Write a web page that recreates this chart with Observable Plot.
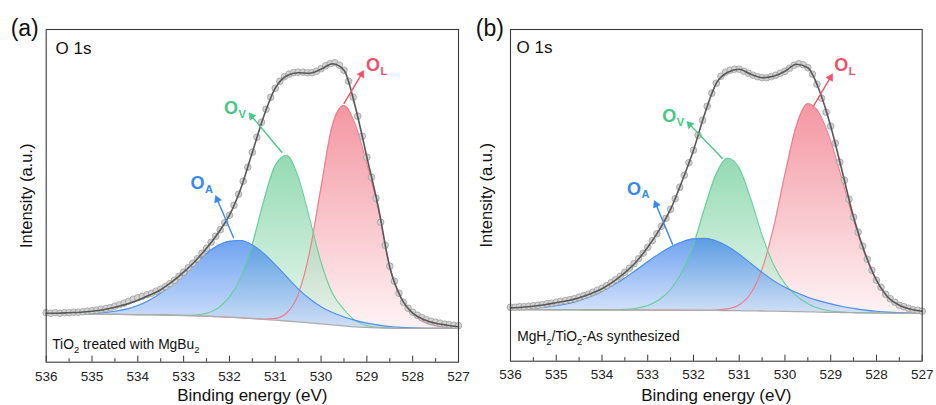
<!DOCTYPE html>
<html>
<head>
<meta charset="utf-8">
<script src="https://cdn.jsdelivr.net/npm/d3@7"></script>
<script src="https://cdn.jsdelivr.net/npm/@observablehq/plot@0.6"></script>
<style>
  html, body { margin: 0; padding: 0; background: #fff; }
  #wrap { position: relative; width: 936px; height: 405px; overflow: hidden; }
  #wrap > svg { position: absolute; top: 0; }
</style>
</head>
<body>
<div id="wrap"></div>
<script>
// ---------- shared axis data ----------
const energy = [536,535.75,535.5,535.25,535,534.75,534.5,534.25,534,533.75,533.5,533.25,533,532.75,532.5,532.25,532,531.75,531.5,531.25,531,530.75,530.5,530.25,530,529.75,529.5,529.25,529,528.75,528.5,528.25,528,527.75,527.5,527.25,527];
const majorTicks = [536,535,534,533,532,531,530,529,528,527];
const minorTicks = [535.5,534.5,533.5,532.5,531.5,530.5,529.5,528.5,527.5];
const tickLabels = ["536","535","534","533","532","531","530","529","528","527"];
const xTitle = "Binding energy (eV)";
const yTitle = "Intensity (a.u.)";
const spectrumTitle = "O 1s";

// ---------- panel (a): TiO2 treated with MgBu2 ----------
const a_background = [48.3,48.3,48.2,48.1,48.0,47.9,47.8,47.7,47.6,47.5,47.3,47.0,46.7,46.4,46.0,45.5,45.0,44.4,43.7,42.9,42.0,41.2,40.3,39.3,38.3,37.3,36.3,35.4,34.8,34.3,34.0,33.9,33.8,33.8,33.8,33.8,33.8];
const a_OA = [48.3,48.4,48.4,48.5,48.8,49.5,50.9,53.1,56.7,62.0,69.1,77.9,88.1,98.8,108.8,116.6,121.0,121.7,117.3,108.8,97.6,85.5,73.4,63.5,55.5,49.6,45.3,41.8,39.1,37.1,35.7,34.8,34.3,34.0,33.9,33.8,33.8];
const a_OV = [48.3,48.3,48.2,48.1,48.0,47.9,47.8,47.7,47.6,47.5,47.3,47.0,46.8,47.2,48.9,54.1,65.3,84.6,118.0,161.4,196.7,206.7,185.4,143.6,99.7,68.7,52.7,41.6,36.7,34.8,34.2,33.9,33.8,33.8,33.8,33.8,33.8];
const a_OL = [48.3,48.3,48.2,48.1,48.0,47.9,47.8,47.7,47.6,47.5,47.3,47.0,46.7,46.4,46.0,45.5,45.0,44.4,43.7,43.2,43.8,49.2,67.7,110.0,175.1,237.3,256.6,237.2,198.0,152.0,95.5,63.5,48.0,40.0,36.4,34.8,34.2];
const a_fit = [49,49,49.5,50,51,52.5,55,58,62,67,72.5,80.5,90,101,114,129,147,174,210,246,274,286.5,289.5,289,293,298.5,292,255,205,155,95,64,49,42.5,39,37,35.5];
const a_points = [[536.0,49.5],[535.9,49],[535.8,49.5],[535.7,49],[535.6,49.5],[535.5,49.5],[535.4,50],[535.3,50],[535.2,50.5],[535.1,51],[535.0,51.5],[534.9,52],[534.8,53],[534.7,53.5],[534.6,54.5],[534.5,56],[534.4,57.5],[534.3,59],[534.2,61],[534.1,63],[534.0,64.5],[533.9,66],[533.8,67.5],[533.7,69],[533.6,71],[533.5,73],[533.4,75.5],[533.3,78.5],[533.2,82],[533.1,86],[533.0,90],[532.9,94.5],[532.8,99],[532.7,103.5],[532.6,109],[532.5,114],[532.4,120],[532.3,126],[532.2,132.5],[532.1,139.5],[532.0,147],[531.9,157],[531.8,168],[531.7,181],[531.6,195],[531.5,210],[531.4,225],[531.3,240],[531.2,253],[531.1,265],[531.0,274],[530.9,281],[530.8,285.5],[530.7,288],[530.6,289.5],[530.5,290],[530.4,290],[530.3,289.5],[530.2,289.5],[530.1,291],[530.0,293.5],[529.9,296.5],[529.8,298.5],[529.7,299.5],[529.6,297],[529.5,292],[529.4,281],[529.3,265],[529.2,246],[529.1,226],[529.0,205],[528.9,185],[528.8,164],[528.7,140],[528.6,117],[528.5,96],[528.4,81],[528.3,69],[528.2,60],[528.1,54],[528.0,50],[527.9,47],[527.8,44.5],[527.7,42.5],[527.6,41],[527.5,40],[527.4,39],[527.3,38],[527.2,37.5],[527.1,37],[527.0,36.5]];
// annotation anchors in data units: arrow start, arrow tip, label "O" centre
const a_labels = [
  {key: "OA", sub: "A", x1: 531.905, y1: 124.0, x2: 532.304, y2: 166.7, lx: 532.70, ly: 178.7},
  {key: "OV", sub: "V", x1: 530.848, y1: 209.4, x2: 531.577, y2: 249.4, lx: 531.966, ly: 254.0},
  {key: "OL", sub: "L", x1: 529.504, y1: 258.4, x2: 529.067, y2: 291.7, lx: 528.866, ly: 296.7}
];
const a_sample = "TiO_{2} treated with MgBu_{2}";

// ---------- panel (b): MgH2/TiO2 as synthesized ----------
const b_background = [51.5,51.5,51.5,51.5,51.4,51.4,51.4,51.3,51.3,51.3,51.2,51.2,51.2,51.1,51.1,51.0,51.0,50.9,50.8,50.6,50.5,50.3,50.2,50.0,49.8,49.6,49.4,49.1,48.9,48.7,48.5,48.3,48.2,48.1,48.0,47.9,47.8];
const b_OA = [52.0,52.4,53.0,54.0,55.4,57.5,60.6,64.6,69.7,76.1,83.2,91.2,99.5,107.3,114.2,119.3,122.3,122.8,120.2,114.7,107.1,98.0,88.7,80.6,73.9,68.7,64.0,60.3,57.3,54.7,52.8,51.1,49.9,49.1,48.6,48.2,48.0];
const b_OV = [51.5,51.5,51.5,51.5,51.4,51.4,51.4,51.3,51.3,51.4,51.8,53.0,55.7,61.5,71.7,89.4,116.5,154.1,187.6,202.9,193.1,162.5,126.1,96.7,77.4,65.3,57.5,52.7,50.2,49.1,48.6,48.3,48.2,48.1,48.0,47.9,47.8];
const b_OL = [51.5,51.5,51.5,51.5,51.4,51.4,51.4,51.3,51.3,51.3,51.2,51.2,51.2,51.1,51.1,51.0,51.0,50.9,51.2,52.3,56.4,67.7,92.2,133.5,187.0,235.5,257.4,248.0,220.1,181.4,141.1,106.3,81.1,64.7,55.7,51.0,49.0];
const b_fit = [53.5,54,55,56.5,58.5,60.5,63.5,67.5,72.5,79.5,88.5,99.5,114,131,152,180,211,248,278,289,292,287,283.5,285,290,297,293.5,271,235,190,144,108,81,64,56,52,50];
const b_points = [[536.0,54],[535.9,54],[535.8,54.5],[535.7,54.5],[535.6,55],[535.5,55.5],[535.4,56],[535.3,56.5],[535.2,57.5],[535.1,58],[535.0,59],[534.9,60],[534.8,60.5],[534.7,61.5],[534.6,62.5],[534.5,64],[534.4,65.5],[534.3,67],[534.2,69],[534.1,71],[534.0,73],[533.9,75.5],[533.8,78.5],[533.7,81.5],[533.6,85],[533.5,89],[533.4,93],[533.3,97.5],[533.2,102.5],[533.1,108],[533.0,114],[532.9,120.5],[532.8,127.5],[532.7,135],[532.6,143],[532.5,152],[532.4,162.5],[532.3,174],[532.2,186],[532.1,198.5],[532.0,211],[531.9,226],[531.8,241],[531.7,255],[531.6,268],[531.5,278],[531.4,285],[531.3,289],[531.2,291],[531.1,292],[531.0,292],[530.9,290],[530.8,288],[530.7,286],[530.6,284.5],[530.5,283.5],[530.4,283.5],[530.3,284.5],[530.2,286],[530.1,288],[530.0,290],[529.9,293],[529.8,296],[529.7,297.5],[529.6,296.5],[529.5,293.5],[529.4,287],[529.3,277],[529.2,263],[529.1,249],[529.0,235],[528.9,218],[528.8,199],[528.7,181],[528.6,162],[528.5,144],[528.4,129],[528.3,115],[528.2,102],[528.1,91],[528.0,81],[527.9,74],[527.8,67],[527.7,62.5],[527.6,59],[527.5,56],[527.4,54.5],[527.3,53],[527.2,51.5],[527.1,51],[527.0,50]];
const b_labels = [
  {key: "OA", sub: "A", x1: 532.454, y1: 116.5, x2: 532.856, y2: 160.7, lx: 533.30, ly: 172.4},
  {key: "OV", sub: "V", x1: 531.361, y1: 202.4, x2: 532.146, y2: 239.7, lx: 532.53, ly: 244.9},
  {key: "OL", sub: "L", x1: 529.382, y1: 254.7, x2: 528.960, y2: 287.4, lx: 528.768, ly: 295.7}
];
const b_sample = "MgH_{2}/TiO_{2}-As synthesized";

// ---------- styles ----------
const FONT = '"Liberation Sans", Arial, Helvetica, sans-serif';
const STYLE = {
  OA: {line: "#4a8ff0", text: "#3488f3", top: "#2c78ea", bottom: "#c4d7fa"},
  OV: {line: "#62d098", text: "#43c784", top: "#62c98f", bottom: "#e2f4ea"},
  OL: {line: "#f37a89", text: "#f2506a", top: "#ef6677", bottom: "#fdeef0"}
};
const NS = "http://www.w3.org/2000/svg";

function addGradients(svg, prefix) {
  const defs = document.createElementNS(NS, "defs");
  for (const key of ["OA", "OV", "OL"]) {
    const g = document.createElementNS(NS, "linearGradient");
    g.setAttribute("id", prefix + "_" + key);
    g.setAttribute("x1", "0"); g.setAttribute("y1", "0");
    g.setAttribute("x2", "0"); g.setAttribute("y2", "1");
    [[0, STYLE[key].top, 0.68], [1, STYLE[key].bottom, 0.7]].forEach(([o, c, op]) => {
      const s = document.createElementNS(NS, "stop");
      s.setAttribute("offset", o);
      s.setAttribute("stop-color", c);
      s.setAttribute("stop-opacity", op);
      g.appendChild(s);
    });
    defs.appendChild(g);
  }
  svg.insertBefore(defs, svg.firstChild);
}

function renderSubscripts(svg) {
  svg.querySelectorAll("text").forEach(t => {
    const s = t.textContent;
    if (!/_\{/.test(s)) return;
    const fs = parseFloat(getComputedStyle(t).fontSize) || 14;
    const shift = fs * 0.3;
    while (t.firstChild) t.removeChild(t.firstChild);
    let shifted = false;
    const add = (str, sub) => {
      if (!str) return;
      const ts = document.createElementNS(NS, "tspan");
      ts.textContent = str;
      if (sub) { ts.setAttribute("font-size", (fs * 0.68).toFixed(2)); ts.setAttribute("dy", shift.toFixed(2)); shifted = true; }
      else if (shifted) { ts.setAttribute("dy", (-shift).toFixed(2)); shifted = false; }
      t.appendChild(ts);
    };
    const re = /_\{([^}]*)\}/g;
    let last = 0, m;
    while ((m = re.exec(s))) { add(s.slice(last, m.index), false); add(m[1], true); last = re.lastIndex; }
    add(s.slice(last), false);
  });
}

function drawPanel(cfg) {
  const W = 468, H = 405;
  const yMax = H - cfg.mt - cfg.mb;
  const k = (W - cfg.ml - cfg.mr) / (majorTicks[0] - majorTicks[majorTicks.length - 1]);
  const rows = energy.map((e, i) => ({e, bg: cfg.bg[i], OA: cfg.OA[i], OV: cfg.OV[i], OL: cfg.OL[i], fit: cfg.fit[i]}));
  const pts = cfg.points.map(([e, v]) => ({e, v}));
  const curve = "monotone-x";
  const marks = [];
  for (const key of ["OL", "OV", "OA"]) {
    marks.push(Plot.areaY(rows, {x: "e", y1: "bg", y2: key, fill: `url(#${cfg.id}_${key})`, curve}));
  }
  for (const key of ["OL", "OV", "OA"]) {
    marks.push(Plot.lineY(rows, {x: "e", y: key, stroke: STYLE[key].line, strokeWidth: 1.1, curve}));
  }
  marks.push(Plot.lineY(rows, {x: "e", y: "bg", stroke: "#ababab", strokeWidth: 1.3, curve}));
  marks.push(Plot.dot(pts, {x: "e", y: "v", r: 3.3, fill: "#d3d3d3", stroke: "#9d9d9d", strokeWidth: 0.8}));
  marks.push(Plot.lineY(rows, {x: "e", y: "fit", stroke: "#585858", strokeWidth: 1.6, curve}));

  // arrows + labels
  const headR = 2.8;
  const apex = 2 * Math.sqrt(headR * headR * Math.PI / (Math.sqrt(3) * 3));
  for (const d of cfg.labels) {
    const col = STYLE[d.key].text;
    const sx = -(d.x2 - d.x1) * k, sy = -(d.y2 - d.y1);
    const L = Math.hypot(sx, sy), ux = sx / L, uy = sy / L;
    const head = {x: d.x2 + apex * ux / k, y: d.y2 + apex * uy, rot: Math.atan2(ux, -uy) * 180 / Math.PI};
    marks.push(Plot.link([d], {x1: "x1", y1: "y1", x2: () => head.x, y2: () => head.y, stroke: col, strokeWidth: 1.4}));
    marks.push(Plot.dot([head], {x: "x", y: "y", symbol: "triangle", r: headR, fill: col, stroke: col, strokeWidth: 0.5, rotate: head.rot}));
    marks.push(Plot.text([d], {x: "lx", y: "ly", text: () => "O", fill: col, fontSize: 18, fontWeight: "bold", textAnchor: "middle", lineAnchor: "middle"}));
    marks.push(Plot.text([d], {x: "lx", y: "ly", text: "sub", fill: col, fontSize: 11, fontWeight: "bold", textAnchor: "start", lineAnchor: "middle", dx: 7.5, dy: 6}));
  }

  // inward ticks
  marks.push(Plot.ruleX(majorTicks, {x: d => d, y1: 0, y2: 6, stroke: "#333", strokeWidth: 1}));
  marks.push(Plot.ruleX(minorTicks, {x: d => d, y1: 0, y2: 3.5, stroke: "#333", strokeWidth: 1}));
  marks.push(Plot.frame({stroke: "#3a3a3a", strokeWidth: 1.1}));

  // tick labels and titles
  marks.push(Plot.text(majorTicks, {x: d => d, text: (d, i) => tickLabels[i], frameAnchor: "bottom", dy: cfg.tickDy, lineAnchor: "middle", fontSize: 13.5, fill: "#222"}));
  marks.push(Plot.text([xTitle], {frameAnchor: "bottom", dy: cfg.xTitleDy, lineAnchor: "middle", fontSize: 17, fill: "#111"}));
  marks.push(Plot.text([yTitle], {frameAnchor: "left", dx: cfg.yTitleDx, rotate: -90, lineAnchor: "middle", textAnchor: "middle", fontSize: 16.5, fill: "#111"}));
  marks.push(Plot.text([cfg.tag], {frameAnchor: "top-left", dx: cfg.tagDx, dy: -1, textAnchor: "middle", lineAnchor: "middle", fontSize: 23, fill: "#111"}));
  marks.push(Plot.text([spectrumTitle], {frameAnchor: "top-left", dx: cfg.titleDx, dy: cfg.titleDy, textAnchor: "start", lineAnchor: "middle", fontSize: 17, fill: "#111"}));
  marks.push(Plot.text([cfg.sample], {frameAnchor: "bottom-left", dx: cfg.sampleDx, dy: cfg.sampleDy, textAnchor: "start", lineAnchor: "middle", fontSize: 13.8, fill: "#111"}));

  const plot = Plot.plot({
    width: W, height: H,
    marginLeft: cfg.ml, marginRight: cfg.mr, marginTop: cfg.mt, marginBottom: cfg.mb,
    x: {domain: [majorTicks[0], majorTicks[majorTicks.length - 1]], axis: null},
    y: {domain: [0, yMax], axis: null},
    style: {fontFamily: FONT, overflow: "visible", background: "transparent", color: "#111"},
    marks
  });
  const svg = plot.tagName.toLowerCase() === "svg" ? plot : plot.querySelector("svg");
  addGradients(svg, cfg.id);
  plot.style.left = cfg.left + "px";
  plot.style.position = "absolute";
  plot.style.top = "0px";
  plot.style.overflow = "visible";
  document.getElementById("wrap").appendChild(plot);
  renderSubscripts(svg);
}

drawPanel({
  id: "pa", left: 0, tag: "(a)",
  ml: 45.7, mr: 10, mt: 29, mb: 43.3,
  bg: a_background, OA: a_OA, OV: a_OV, OL: a_OL, fit: a_fit, points: a_points, labels: a_labels,
  sample: a_sample, tickDy: 14.3, xTitleDy: 33.8, yTitleDx: -19, tagDx: -21.5,
  titleDx: 9.3, titleDy: 19.3, sampleDx: 6, sampleDy: -17.9
});
drawPanel({
  id: "pb", left: 468, tag: "(b)",
  ml: 42, mr: 14.3, mt: 29, mb: 44.3,
  bg: b_background, OA: b_OA, OV: b_OV, OL: b_OL, fit: b_fit, points: b_points, labels: b_labels,
  sample: b_sample, tickDy: 13.5, xTitleDy: 34.8, yTitleDx: -23.5, tagDx: -20.7,
  titleDx: 6, titleDy: 17.7, sampleDx: 6.7, sampleDy: -25
});
</script>
</body>
</html>
